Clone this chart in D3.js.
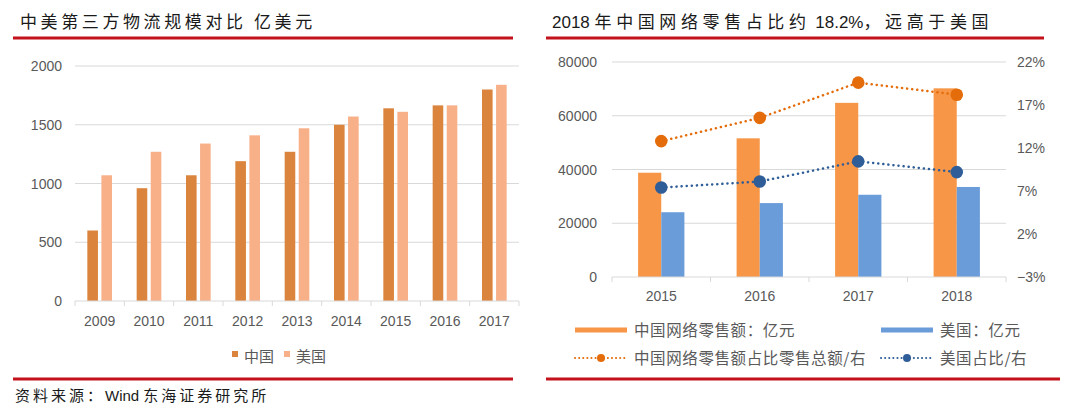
<!DOCTYPE html>
<html>
<head>
<meta charset="utf-8">
<script src="https://cdn.jsdelivr.net/npm/d3@7"></script>
<style>
  html, body { margin: 0; padding: 0; background: #fff; }
  svg { display: block; }
  text { font-family: "Liberation Sans", Arial, "Noto Sans CJK SC", sans-serif; fill: #595959; }
  .cjk { font-family: "Noto Sans CJK SC", sans-serif; }
</style>
</head>
<body>
<div id="chart"></div>
<script>
// left chart data: 中美第三方物流规模 (亿美元)
const years1 = ["2009", "2010", "2011", "2012", "2013", "2014", "2015", "2016", "2017"];
const chinaLogistics = [600, 960, 1070, 1190, 1270, 1500, 1640, 1665, 1800];
const usLogistics = [1070, 1270, 1340, 1410, 1470, 1570, 1610, 1665, 1840];
const ticks1 = [0, 500, 1000, 1500, 2000];

// right chart data: 网络零售额
const years2 = ["2015", "2016", "2017", "2018"];
const chinaRetail = [38800, 51600, 64800, 70200];
const usRetail = [24100, 27500, 30600, 33500];
const chinaShare = [0.128, 0.155, 0.196, 0.182];
const usShare = [0.074, 0.081, 0.1045, 0.092];
const ticks2L = [0, 20000, 40000, 60000, 80000];
const ticks2R = [-0.03, 0.02, 0.07, 0.12, 0.17, 0.22];

const svg = d3.select("#chart").append("svg")
    .attr("width", 1080)
    .attr("height", 411)
    .attr("viewBox", "0 0 1080 411");

svg.append("rect").attr("width", 1080).attr("height", 411).attr("fill", "#fff");

const red = "#c4121c";
const grid = "#d9d9d9";

function redLine(x1, x2, y) {
    svg.append("line")
        .attr("x1", x1).attr("x2", x2).attr("y1", y).attr("y2", y)
        .attr("stroke", red).attr("stroke-width", 3);
}

// titles
svg.append("text").attr("class", "cjk")
    .attr("x", 20).attr("y", 28)
    .attr("font-size", 17).attr("letter-spacing", 3.6)
    .style("fill", "#1a1a1a")
    .text("中美第三方物流规模对比 亿美元");

const t2 = svg.append("text")
    .attr("x", 552).attr("y", 28)
    .attr("font-size", 17)
    .style("fill", "#1a1a1a");
t2.append("tspan").text("2018 ");
t2.append("tspan").attr("class", "cjk").attr("letter-spacing", 4.6).text("年中国网络零售占比约");
t2.append("tspan").text(" 18.2%");
t2.append("tspan").attr("class", "cjk").attr("letter-spacing", 4.6).text("，远高于美国");

redLine(13, 513, 38);
redLine(546, 1044, 38);
redLine(13, 513, 379);
redLine(546, 1060, 379);

const src = svg.append("text")
    .attr("x", 15).attr("y", 401)
    .attr("font-size", 15)
    .style("fill", "#1a1a1a");
src.append("tspan").attr("class", "cjk").attr("letter-spacing", 3).text("资料来源：");
src.append("tspan").text("Wind ");
src.append("tspan").attr("class", "cjk").attr("letter-spacing", 3).text("东海证券研究所");

// ---------- left chart ----------
const x1 = d3.scaleBand().domain(years1).range([75, 519]);
const y1 = d3.scaleLinear().domain([0, 2000]).range([301, 66]);

const g1 = svg.append("g");
g1.selectAll(".grid").data(ticks1.filter(d => d > 0)).enter().append("line")
    .attr("x1", 75).attr("x2", 519)
    .attr("y1", d => y1(d)).attr("y2", d => y1(d))
    .attr("stroke", grid).attr("stroke-width", 1);

g1.selectAll(".ylab").data(ticks1).enter().append("text")
    .attr("x", 62).attr("y", d => y1(d) + 5)
    .attr("text-anchor", "end").attr("font-size", 14)
    .text(d => d);

const bw1 = x1.bandwidth() * 0.215;
const gap1 = x1.bandwidth() * 0.07;

g1.selectAll(".cn").data(chinaLogistics).enter().append("rect")
    .attr("x", (d, i) => x1(years1[i]) + x1.bandwidth() / 2 - gap1 / 2 - bw1)
    .attr("y", d => y1(d))
    .attr("width", bw1)
    .attr("height", d => y1(0) - y1(d))
    .attr("fill", "#db843d");

g1.selectAll(".us").data(usLogistics).enter().append("rect")
    .attr("x", (d, i) => x1(years1[i]) + x1.bandwidth() / 2 + gap1 / 2)
    .attr("y", d => y1(d))
    .attr("width", bw1)
    .attr("height", d => y1(0) - y1(d))
    .attr("fill", "#f8b088");

// x axis
const ax1 = g1.append("g").attr("transform", "translate(0,301)");
ax1.append("line").attr("x1", 75).attr("x2", 519).attr("stroke", grid);
ax1.selectAll(".tk").data(years1.map(d => x1(d)).concat([519])).enter().append("line")
    .attr("x1", d => d).attr("x2", d => d).attr("y1", 0).attr("y2", 5)
    .attr("stroke", grid);
ax1.selectAll(".xl").data(years1).enter().append("text")
    .attr("x", d => x1(d) + x1.bandwidth() / 2).attr("y", 25)
    .attr("text-anchor", "middle").attr("font-size", 14)
    .text(d => d);

// legend
const leg1 = [["中国", "#db843d", 232], ["美国", "#f8b088", 284]];
leg1.forEach(([name, c, lx]) => {
    svg.append("rect").attr("x", lx).attr("y", 351).attr("width", 6).attr("height", 6).attr("fill", c);
    svg.append("text").attr("class", "cjk").attr("x", lx + 12).attr("y", 362)
        .attr("font-size", 15).text(name);
});

// ---------- right chart ----------
const x2 = d3.scaleBand().domain(years2).range([612, 1006]);
const y2 = d3.scaleLinear().domain([0, 80000]).range([277, 62]);
const y2r = d3.scaleLinear().domain([-0.03, 0.22]).range([277, 62]);

const g2 = svg.append("g");
g2.selectAll(".grid").data(ticks2L.filter(d => d > 0)).enter().append("line")
    .attr("x1", 612).attr("x2", 1006)
    .attr("y1", d => y2(d)).attr("y2", d => y2(d))
    .attr("stroke", grid);

g2.selectAll(".yl").data(ticks2L).enter().append("text")
    .attr("x", 597).attr("y", d => y2(d) + 5)
    .attr("text-anchor", "end").attr("font-size", 14)
    .text(d => d);

g2.selectAll(".yr").data(ticks2R).enter().append("text")
    .attr("x", 1017).attr("y", d => y2r(d) + 5)
    .attr("font-size", 14)
    .text(d => d3.format(".0%")(d).replace("-", "−"));

const bw2 = x2.bandwidth() * 0.235;
const cx2 = d => x2(d) + x2.bandwidth() / 2;

g2.selectAll(".cn").data(chinaRetail).enter().append("rect")
    .attr("x", (d, i) => cx2(years2[i]) - bw2)
    .attr("y", d => y2(d))
    .attr("width", bw2)
    .attr("height", d => y2(0) - y2(d))
    .attr("fill", "#f79646");

g2.selectAll(".us").data(usRetail).enter().append("rect")
    .attr("x", (d, i) => cx2(years2[i]))
    .attr("y", d => y2(d))
    .attr("width", bw2)
    .attr("height", d => y2(0) - y2(d))
    .attr("fill", "#6a9cda");

const ax2 = g2.append("g").attr("transform", "translate(0,277)");
ax2.append("line").attr("x1", 612).attr("x2", 1006).attr("stroke", grid);
ax2.selectAll(".tk").data(years2.map(d => x2(d)).concat([1006])).enter().append("line")
    .attr("x1", d => d).attr("x2", d => d).attr("y1", 0).attr("y2", 5)
    .attr("stroke", grid);
ax2.selectAll(".xl").data(years2).enter().append("text")
    .attr("x", d => cx2(d)).attr("y", 24)
    .attr("text-anchor", "middle").attr("font-size", 14)
    .text(d => d);

const line = d3.line().x(d => cx2(d[0])).y(d => y2r(d[1]));
const shareSeries = [
    { values: chinaShare, color: "#e46c0a" },
    { values: usShare, color: "#2e5d98" }
];
shareSeries.forEach(s => {
    const pts = years2.map((yr, i) => [yr, s.values[i]]);
    g2.append("path").datum(pts)
        .attr("d", line)
        .attr("fill", "none")
        .attr("stroke", s.color)
        .attr("stroke-width", 2.5)
        .attr("stroke-dasharray", "0.1 5")
        .attr("stroke-linecap", "round");
    g2.selectAll(null).data(pts).enter().append("circle")
        .attr("cx", d => cx2(d[0])).attr("cy", d => y2r(d[1]))
        .attr("r", 6.3).attr("fill", s.color);
});

// right legend
const leg2 = [
    { name: "中国网络零售额：亿元", color: "#f79646", type: "bar", x: 575, y: 330 },
    { name: "美国：亿元", color: "#6a9cda", type: "bar", x: 881, y: 330 },
    { name: "中国网络零售额占比零售总额/右", color: "#e46c0a", type: "line", x: 575, y: 358 },
    { name: "美国占比/右", color: "#2e5d98", type: "line", x: 881, y: 358 }
];
leg2.forEach(l => {
    if (l.type === "bar") {
        svg.append("rect").attr("x", l.x).attr("y", l.y - 2.5).attr("width", 52).attr("height", 5).attr("fill", l.color);
    } else {
        svg.append("line").attr("x1", l.x).attr("x2", l.x + 52).attr("y1", l.y).attr("y2", l.y)
            .attr("stroke", l.color).attr("stroke-width", 2)
            .attr("stroke-dasharray", "0.1 4").attr("stroke-linecap", "round");
        svg.append("circle").attr("cx", l.x + 26).attr("cy", l.y).attr("r", 4).attr("fill", l.color);
    }
    svg.append("text").attr("class", "cjk")
        .attr("x", l.x + 59).attr("y", l.y + 5.5)
        .attr("font-size", 15.5).attr("letter-spacing", 0.6)
        .text(l.name);
});
</script>
</body>
</html>
